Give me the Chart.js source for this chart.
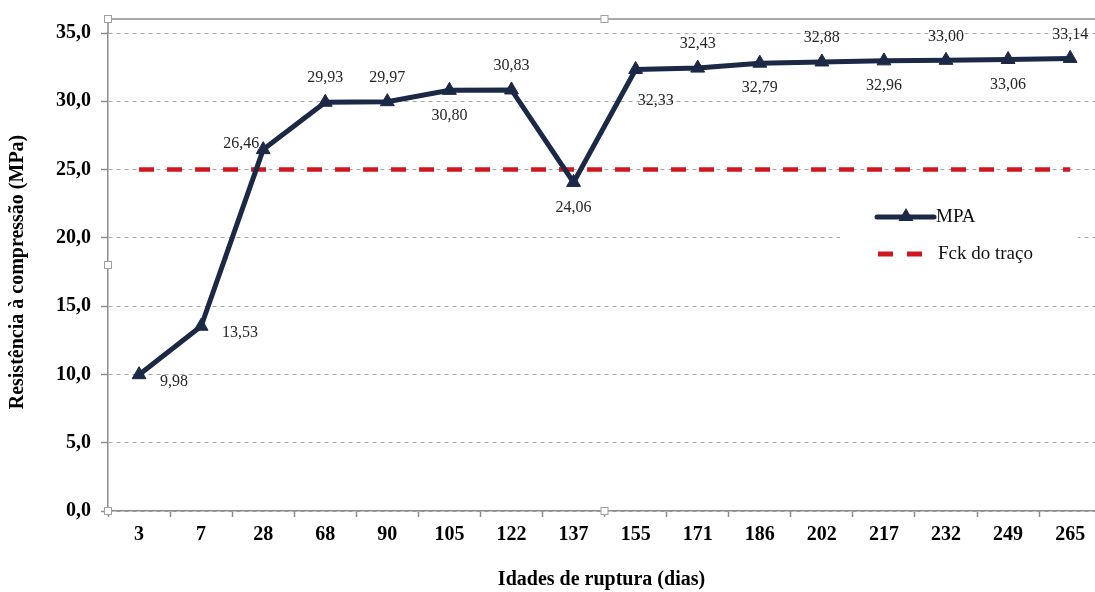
<!DOCTYPE html>
<html>
<head>
<meta charset="utf-8">
<script src="https://cdn.jsdelivr.net/npm/chart.js@4.4.1/dist/chart.umd.min.js"></script>
<style>
html,body{margin:0;padding:0;background:#fff;overflow:hidden;}
#wrap{width:1095px;height:592px;}
</style>
</head>
<body>
<div id="wrap"><canvas id="c" width="1095" height="592"></canvas></div>
<script>
// ---- data ----
const ages = ['3','7','28','68','90','105','122','137','155','171','186','202','217','232','249','265'];
const mpa = [9.98, 13.53, 26.46, 29.93, 29.97, 30.80, 30.83, 24.06, 32.33, 32.43, 32.79, 32.88, 32.96, 33.00, 33.06, 33.14];
const fck = [25, 25, 25, 25, 25, 25, 25, 25, 25, 25, 25, 25, 25, 25, 25, 25];
const yTicks = [0, 5, 10, 15, 20, 25, 30, 35];
const seriesNames = ['MPA', 'Fck do traço'];
const labelPlacement = ['br','br','al','a','a','b','a','b','bs','a','b','a','b','a','b','a'];

const SERIF = '"Liberation Serif", "Times New Roman", serif';
const NAVY = '#1b2946';
const RED = '#d2161f';
const AXIS = '#8c8c8c';

const fmt1 = v => v.toFixed(1).replace('.', ',');
const fmt2 = v => v.toFixed(2).replace('.', ',');

const decor = {
  id: 'decor',
  afterDraw(chart) {
    const {ctx, chartArea: a} = chart;
    ctx.save();
    const topY = a.top - 14;
    ctx.strokeStyle = AXIS; ctx.lineWidth = 1.5; ctx.setLineDash([]);
    ctx.beginPath(); ctx.moveTo(a.left, topY); ctx.lineTo(chart.width, topY); ctx.stroke();
    ctx.beginPath(); ctx.moveTo(a.left, topY); ctx.lineTo(a.left, a.top); ctx.stroke();
    const midX = 604.5, midY = (topY + a.bottom) / 2;
    [[a.left, topY], [midX, topY], [a.left, midY], [a.left, a.bottom], [midX, a.bottom]].forEach(([x, y]) => {
      ctx.fillStyle = '#fff'; ctx.strokeStyle = '#a0a0a0'; ctx.lineWidth = 1;
      ctx.fillRect(x - 3.5, y - 3.5, 7, 7); ctx.strokeRect(x - 3.5, y - 3.5, 7, 7);
    });
    // legend
    const lx = 840;
    ctx.fillStyle = '#fff';
    ctx.fillRect(lx, 196, 238, 78);
    const y1 = 217, y2 = 254;
    ctx.strokeStyle = NAVY; ctx.lineWidth = 5; ctx.lineCap = 'round';
    ctx.beginPath(); ctx.moveTo(lx + 37, y1); ctx.lineTo(lx + 94, y1); ctx.stroke();
    ctx.fillStyle = NAVY; ctx.lineCap = 'butt';
    ctx.beginPath(); ctx.moveTo(lx + 66, y1 - 9); ctx.lineTo(lx + 73.5, y1 + 4); ctx.lineTo(lx + 58.5, y1 + 4); ctx.closePath(); ctx.fill();
    ctx.strokeStyle = RED; ctx.lineWidth = 5;
    ctx.beginPath(); ctx.moveTo(lx + 38, y2); ctx.lineTo(lx + 53, y2); ctx.moveTo(lx + 67, y2); ctx.lineTo(lx + 82, y2); ctx.stroke();
    ctx.fillStyle = '#111'; ctx.font = '19px ' + SERIF; ctx.textBaseline = 'middle'; ctx.textAlign = 'left';
    ctx.fillText(seriesNames[0], lx + 96, y1);
    ctx.fillText(seriesNames[1], lx + 98, y2);
    ctx.restore();
  },
  afterDatasetsDraw(chart) {
    const {ctx} = chart;
    const meta = chart.getDatasetMeta(0);
    ctx.save();
    ctx.font = '16px ' + SERIF; ctx.fillStyle = '#262626'; ctx.textBaseline = 'middle';
    meta.data.forEach((pt, i) => {
      let x = pt.x, y = pt.y, align = 'center';
      switch (labelPlacement[i]) {
        case 'a': y -= 24; break;
        case 'b': y += 25; break;
        case 'br': x += 21; y += 7; align = 'left'; break;
        case 'al': x -= 4; y -= 6; align = 'right'; break;
        case 'bs': x += 2; y += 31; align = 'left'; break;
      }
      ctx.textAlign = align;
      ctx.fillText(fmt2(mpa[i]), x, y);
    });
    ctx.restore();
  }
};

const idx = ages.map((_, i) => i);

new Chart(document.getElementById('c'), {
  type: 'line',
  data: {
    datasets: [
      {
        label: seriesNames[0], data: mpa.map((v, i) => ({x: i, y: v})), order: 0,
        borderColor: NAVY, backgroundColor: NAVY, borderWidth: 5,
        pointStyle: 'triangle', pointRadius: 8, pointBorderWidth: 1,
        pointBackgroundColor: NAVY, pointBorderColor: NAVY, tension: 0
      },
      {
        label: seriesNames[1], data: fck.map((v, i) => ({x: i, y: v})), order: 1,
        borderColor: RED, borderWidth: 4.5, borderDash: [15, 13],
        pointRadius: 0, tension: 0
      }
    ]
  },
  options: {
    responsive: false, animation: false,
    layout: {autoPadding: false, padding: {top: 33, right: 0, left: 0, bottom: 0}},
    plugins: {legend: {display: false}, tooltip: {enabled: false}},
    scales: {
      x: {
        type: 'linear', min: -0.5, max: 15.4,
        afterBuildTicks: s => { s.ticks = idx.map(v => ({value: v})); },
        grid: {offset: true, drawOnChartArea: false, drawTicks: true, tickLength: 6, tickColor: AXIS, tickWidth: 1.5},
        border: {color: AXIS, width: 1.5},
        ticks: {color: '#000', font: {family: SERIF, size: 20, weight: 'bold'}, padding: 6, maxRotation: 0, autoSkip: false,
                callback: v => ages[v]},
        title: {display: true, text: 'Idades de ruptura (dias)', color: '#000', font: {family: SERIF, size: 20, weight: 'bold'}, padding: {top: 0, bottom: 0}},
        afterFit: s => { s.height = 81; }
      },
      y: {
        min: 0, max: 35,
        afterBuildTicks: s => { s.ticks = yTicks.map(v => ({value: v})); },
        grid: {color: '#a6a6a6', lineWidth: 1, drawTicks: true, tickLength: 7, tickColor: AXIS, tickWidth: 1.5},
        border: {color: AXIS, width: 1.5, dash: [4, 4]},
        ticks: {color: '#000', font: {family: SERIF, size: 20, weight: 'bold'}, padding: 10, callback: v => fmt1(v)},
        title: {display: true, text: 'Resistência à compressão (MPa)', color: '#000', font: {family: SERIF, size: 20, weight: 'bold'}, padding: {top: 6, bottom: 0}},
        afterFit: s => { s.width = 108; }
      }
    }
  },
  plugins: [decor]
});
</script>
</body>
</html>
